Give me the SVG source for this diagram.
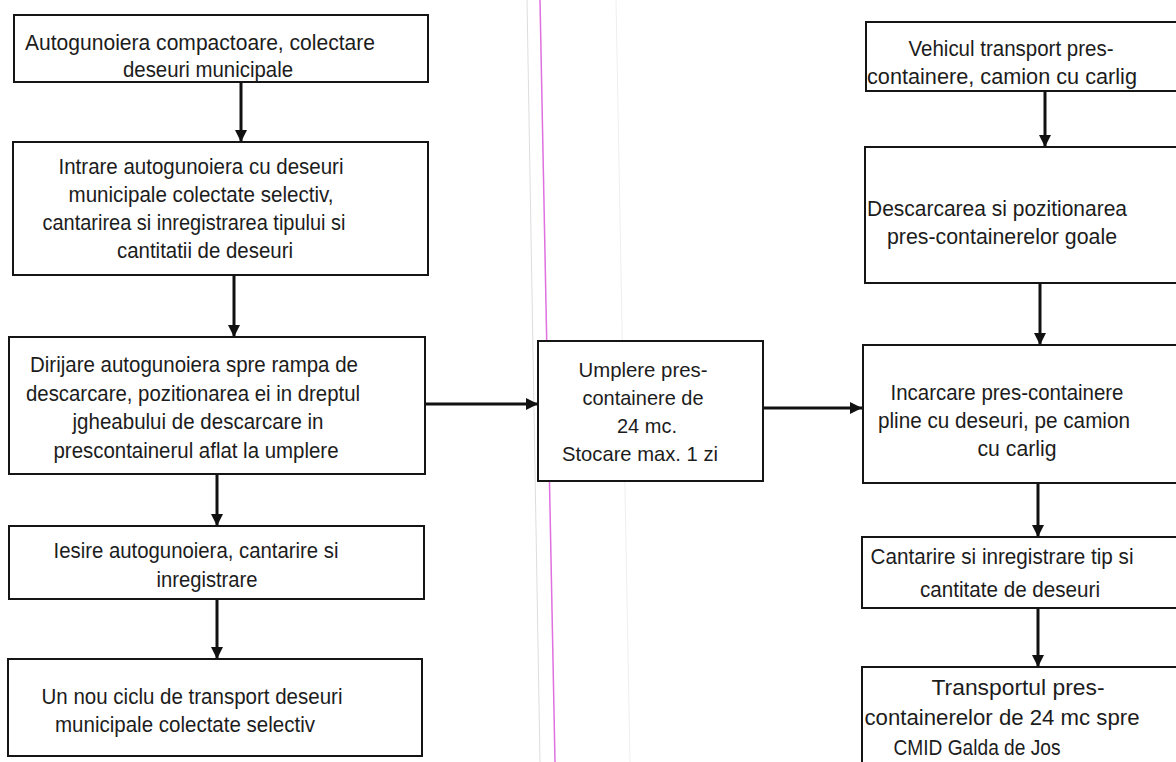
<svg xmlns="http://www.w3.org/2000/svg" width="1176" height="762" viewBox="0 0 1176 762">
<defs>
<style>
.box{fill:#fff;stroke:#151515;stroke-width:2}
.t{font-family:"Liberation Sans",Arial,sans-serif;font-size:22px;fill:#1c1c1c;text-anchor:middle}
.m{font-family:"Liberation Sans",Arial,sans-serif;font-size:21px;fill:#1c1c1c;text-anchor:middle}
.c{stroke:#111;stroke-width:3;fill:none;marker-end:url(#ah)}
</style>
<marker id="ah" markerUnits="userSpaceOnUse" markerWidth="14" markerHeight="14" refX="12" refY="6" orient="auto">
<path d="M0,0 L12,6 L0,12 Z" fill="#111"/>
</marker>
</defs>
<rect width="1176" height="762" fill="#fff"/>
<line x1="540" y1="0" x2="555" y2="762" stroke="#e070e0" stroke-width="1.5"/>
<line x1="527" y1="0" x2="540" y2="762" stroke="#ddd" stroke-width="1"/>
<line x1="616" y1="0" x2="630" y2="762" stroke="#eee" stroke-width="1"/>

<g id="connectors">
<line class="c" x1="241" y1="82" x2="241" y2="142"/>
<line class="c" x1="234" y1="275" x2="234" y2="337"/>
<line class="c" x1="217" y1="474" x2="217" y2="526"/>
<line class="c" x1="217" y1="599" x2="217" y2="659"/>
<line class="c" x1="425" y1="404" x2="538" y2="404"/>
<line class="c" x1="763" y1="408" x2="862" y2="408"/>
<line class="c" x1="1045" y1="91" x2="1045" y2="147"/>
<line class="c" x1="1040" y1="283" x2="1040" y2="345"/>
<line class="c" x1="1038" y1="483" x2="1038" y2="537"/>
<line class="c" x1="1038" y1="608" x2="1038" y2="667"/>
</g>

<g id="n1">
<rect class="box" x="14" y="15" width="414" height="67"/>
<text class="t" x="200" y="50" textLength="350" lengthAdjust="spacingAndGlyphs">Autogunoiera compactoare, colectare</text>
<text class="t" x="208" y="77" textLength="170" lengthAdjust="spacingAndGlyphs">deseuri municipale</text>
</g>
<g id="n2">
<rect class="box" x="13" y="142" width="415" height="133"/>
<text class="t" x="201" y="174" textLength="285" lengthAdjust="spacingAndGlyphs">Intrare autogunoiera cu deseuri</text>
<text class="t" x="201" y="202" textLength="265" lengthAdjust="spacingAndGlyphs">municipale colectate selectiv,</text>
<text class="t" x="194" y="230" textLength="303" lengthAdjust="spacingAndGlyphs">cantarirea si inregistrarea tipului si</text>
<text class="t" x="205" y="258" textLength="176" lengthAdjust="spacingAndGlyphs">cantitatii de deseuri</text>
</g>
<g id="n3">
<rect class="box" x="9" y="337" width="416" height="137"/>
<text class="t" x="194" y="372" textLength="328" lengthAdjust="spacingAndGlyphs">Dirijare autogunoiera spre rampa de</text>
<text class="t" x="193" y="401" textLength="334" lengthAdjust="spacingAndGlyphs">descarcare, pozitionarea ei in dreptul</text>
<text class="t" x="198" y="429" textLength="251" lengthAdjust="spacingAndGlyphs">jgheabului de descarcare in</text>
<text class="t" x="196" y="458" textLength="285" lengthAdjust="spacingAndGlyphs">prescontainerul aflat la umplere</text>
</g>
<g id="n4">
<rect class="box" x="9" y="526" width="415" height="73"/>
<text class="t" x="196" y="558" textLength="285" lengthAdjust="spacingAndGlyphs">Iesire autogunoiera, cantarire si</text>
<text class="t" x="207" y="587" textLength="101" lengthAdjust="spacingAndGlyphs">inregistrare</text>
</g>
<g id="n5">
<rect class="box" x="8" y="659" width="414" height="97"/>
<text class="t" x="192" y="704" textLength="301" lengthAdjust="spacingAndGlyphs">Un nou ciclu de transport deseuri</text>
<text class="t" x="185" y="732" textLength="260" lengthAdjust="spacingAndGlyphs">municipale colectate selectiv</text>
</g>
<g id="n6">
<rect class="box" x="538" y="341" width="225" height="140"/>
<text class="m" x="643" y="377" textLength="129" lengthAdjust="spacingAndGlyphs">Umplere pres-</text>
<text class="m" x="643" y="405" textLength="121" lengthAdjust="spacingAndGlyphs">containere de</text>
<text class="m" x="647" y="433" textLength="60" lengthAdjust="spacingAndGlyphs">24 mc.</text>
<text class="m" x="640" y="461" textLength="156" lengthAdjust="spacingAndGlyphs">Stocare max. 1 zi</text>
</g>
<g id="n7">
<rect class="box" x="866" y="22" width="320" height="69"/>
<text class="t" x="1011" y="56" textLength="205" lengthAdjust="spacingAndGlyphs">Vehicul transport pres-</text>
<text class="t" x="1002" y="84" textLength="270" lengthAdjust="spacingAndGlyphs">containere, camion cu carlig</text>
</g>
<g id="n8">
<rect class="box" x="865" y="147" width="321" height="136"/>
<text class="t" x="997" y="216" textLength="260" lengthAdjust="spacingAndGlyphs">Descarcarea si pozitionarea</text>
<text class="t" x="1002" y="244" textLength="230" lengthAdjust="spacingAndGlyphs">pres-containerelor goale</text>
</g>
<g id="n9">
<rect class="box" x="863" y="345" width="323" height="138"/>
<text class="t" x="1007" y="400" textLength="233" lengthAdjust="spacingAndGlyphs">Incarcare pres-containere</text>
<text class="t" x="1004" y="428" textLength="252" lengthAdjust="spacingAndGlyphs">pline cu deseuri, pe camion</text>
<text class="t" x="1017" y="456" textLength="79" lengthAdjust="spacingAndGlyphs">cu carlig</text>
</g>
<g id="n10">
<rect class="box" x="862" y="537" width="324" height="71"/>
<text class="t" x="1002" y="564" textLength="263" lengthAdjust="spacingAndGlyphs">Cantarire si inregistrare tip si</text>
<text class="t" x="1010" y="597" textLength="180" lengthAdjust="spacingAndGlyphs">cantitate de deseuri</text>
</g>
<g id="n11">
<rect class="box" x="862" y="667" width="324" height="110"/>
<text class="t" x="1018" y="695" textLength="173" lengthAdjust="spacingAndGlyphs">Transportul pres-</text>
<text class="t" x="1002" y="725" textLength="275" lengthAdjust="spacingAndGlyphs">containerelor de  24 mc spre</text>
<text class="t" x="977" y="755" textLength="167" lengthAdjust="spacingAndGlyphs">CMID Galda de Jos</text>
</g>
</svg>
